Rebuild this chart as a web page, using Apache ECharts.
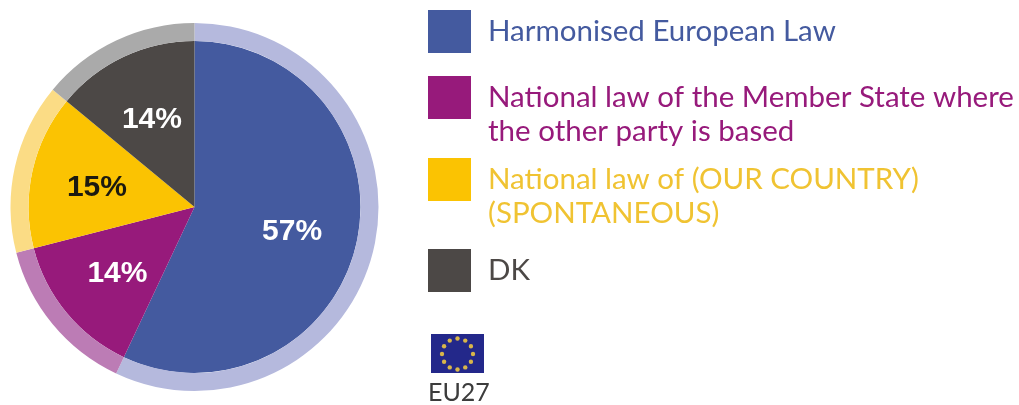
<!DOCTYPE html>
<html>
<head>
<meta charset="utf-8">
<style>html,body{margin:0;padding:0;background:#fff}#chart{width:1019px;height:405px}</style>
<script src="https://cdn.jsdelivr.net/npm/echarts@6/dist/echarts.min.js"></script>
</head>
<body>
<div id="chart"></div>
<script>
// Which law applies: EU27 shares in percent
const categories = [
  'Harmonised European Law',
  'National law of the Member State where the other party is based',
  'National law of (OUR COUNTRY) (SPONTANEOUS)',
  'DK'
];
const shares = [57, 14, 15, 14];
// A leading empty line keeps the first text line level with the swatch
const legendLines = [
  'Harmonised European Law',
  '\nNational law of the Member State where\nthe other party is based',
  '\nNational law of (OUR COUNTRY)\n(SPONTANEOUS)',
  'DK'
];
const fillColors = ['#445a9f', '#971a7b', '#fbc302', '#4c4846'];
const ringColors = ['#b5b9dd', '#bc7cb5', '#fbdc85', '#aaaaaa'];
const labelColors = ['#ffffff', '#ffffff', '#1c1a10', '#ffffff'];
const legendTextColors = ['#445a9f', '#971a7b', '#f0c332', '#4c4846'];
const legendTops = [10, 46.5, 128.5, 249];

const center = [194.5, 207];
const toItems = colors => categories.map((name, i) => ({
  name, value: shares[i], itemStyle: { color: colors[i] }
}));

const legends = categories.map((name, i) => ({
  data: [name],
  left: 428,
  top: legendTops[i],
  orient: 'vertical',
  icon: 'rect',
  itemWidth: 43,
  itemHeight: 43,
  itemGap: 0,
  padding: 0,
  selectedMode: false,
  formatter: () => legendLines[i],
  textStyle: {
    color: legendTextColors[i],
    fontFamily: 'Lato',
    fontSize: 29.5,
    lineHeight: 34,
    padding: [0, 0, 0, 12]
  }
}));

// EU flag: a navy field with a ring of twelve stars
const flag = { x: 431, y: 334, w: 53, h: 39, cx: 457.5, cy: 354, ring: 15.5, star: 2.2 };
const flagStars = Array.from({ length: 12 }, (_, i) => {
  const a = i * Math.PI / 6;
  return {
    type: 'circle',
    shape: {
      cx: flag.cx + flag.ring * Math.cos(a),
      cy: flag.cy + flag.ring * Math.sin(a),
      r: flag.star
    },
    style: { fill: '#d9b64a' }
  };
});

const chart = echarts.init(document.getElementById('chart'), null, { renderer: 'canvas' });
chart.setOption({
  backgroundColor: '#ffffff',
  animation: false,
  legend: legends,
  series: [
    {
      type: 'pie', center, radius: [0, 166], startAngle: 90, silent: true,
      label: { show: false }, labelLine: { show: false },
      data: toItems(fillColors)
    },
    {
      type: 'pie', center, radius: [166, 184], startAngle: 90, silent: true,
      label: { show: false }, labelLine: { show: false },
      data: toItems(ringColors)
    },
    {
      // Transparent layer whose band midline places the percentage labels
      type: 'pie', center, radius: [28, 166], startAngle: 90, silent: true,
      labelLine: { show: false },
      data: categories.map((name, i) => ({
        name, value: shares[i],
        itemStyle: { color: 'rgba(0,0,0,0)' },
        label: {
          show: true, position: 'inside',
          formatter: shares[i] + '%',
          color: labelColors[i],
          fontFamily: 'Liberation Sans',
          fontWeight: 'bold',
          fontSize: 30,
          offset: [0, 3]
        }
      }))
    }
  ],
  graphic: [
    {
      type: 'rect',
      shape: { x: flag.x, y: flag.y, width: flag.w, height: flag.h },
      style: { fill: '#23288a' }
    },
    ...flagStars,
    {
      type: 'text',
      x: 428, y: 393,
      style: { text: 'EU27', fill: '#3c3c3c', font: '25px "Lato"', verticalAlign: 'middle' }
    }
  ]
});
</script>
</body>
</html>
